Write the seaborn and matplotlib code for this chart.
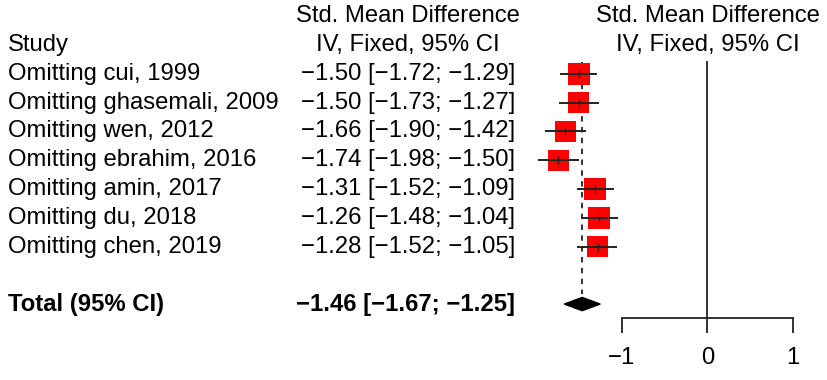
import numpy as np
import matplotlib
matplotlib.use("Agg")
import matplotlib.pyplot as plt
import seaborn as sns
import pandas as pd

# ---- data ----
studies = ["Omitting cui, 1999", "Omitting ghasemali, 2009", "Omitting wen, 2012",
           "Omitting ebrahim, 2016", "Omitting amin, 2017", "Omitting du, 2018",
           "Omitting chen, 2019"]
smd = [-1.50, -1.50, -1.66, -1.74, -1.31, -1.26, -1.28]
ci_low = [-1.72, -1.73, -1.90, -1.98, -1.52, -1.48, -1.52]
ci_high = [-1.29, -1.27, -1.42, -1.50, -1.09, -1.04, -1.05]
weights = [14.2, 14.0, 13.8, 14.1, 14.3, 14.9, 14.4]

total_label = "Total (95% CI)"
total_smd = -1.46
total_low = -1.67
total_high = -1.25

xticks = [-1, 0, 1]

df = pd.DataFrame({"study": studies, "smd": smd, "lo": ci_low, "hi": ci_high,
                   "w": weights})
df["row"] = np.arange(1, len(df) + 1)
total_row = len(df) + 2

def fmt(v):
    return f"{v:.2f}".replace("-", "\u2212")

sns.set_theme(style="white")
plt.rcParams["font.family"] = ["Liberation Sans", "DejaVu Sans"]
plt.rcParams["text.color"] = "black"
plt.rcParams["xtick.color"] = "black"
FS = 17.2
LINE = "#222222"

fig = plt.figure(figsize=(8.27, 3.8), dpi=100)
ax = fig.add_axes([0, 0, 1, 1])
ax.set_xlim(-8.25, -8.25 + 827 / 85.75)
ax.set_ylim(11.64, -1.57)

# squares (area ~ weight)
side = 15.8 * np.sqrt(df["w"] / df["w"].max())
sns.scatterplot(data=df, x="smd", y="row", marker="s", s=side ** 2, color="#ff0000",
                edgecolor="none", legend=False, ax=ax, zorder=3)
ax.hlines(df["row"], df["lo"], df["hi"], color=LINE, lw=1.4, zorder=4)
ax.scatter(df["smd"], df["row"], marker="|", s=30, color=LINE, lw=1.0, zorder=5)

# pooled diamond and reference lines
ax.fill([total_low, total_smd, total_high, total_smd],
        [total_row, total_row - 0.23, total_row, total_row + 0.23],
        color="black", zorder=3)
ax.vlines(total_smd, 0.6, total_row - 0.35, color=LINE, lw=1.3, ls=(0, (3, 3)), zorder=2)
ax.vlines(0, 0.55, 9.49, color=LINE, lw=1.3, zorder=2)

# bottom axis
ax.spines["bottom"].set_position(("data", 9.49))
ax.spines["bottom"].set_bounds(-1, 1)
ax.spines["bottom"].set_color(LINE)
ax.spines["bottom"].set_linewidth(1.3)
for s in ["top", "left", "right"]:
    ax.spines[s].set_visible(False)
ax.set_xticks(xticks)
ax.set_xticklabels([str(t).replace("-", "\u2212") for t in xticks], fontsize=FS)
ax.tick_params(axis="x", direction="out", length=11, width=1.3, color=LINE, pad=10,
               bottom=True, labelcolor="black")
ax.set_yticks([])
ax.set_xlabel("")
ax.set_ylabel("")

# text columns
tr = ax.get_yaxis_transform()
x_study = 8 / 827
x_ci = 515 / 827
x_head = 408 / 827
ax.text(x_study, 0, "Study", transform=tr, fontsize=FS, va="center", ha="left")
ax.text(x_head, -1, "Std. Mean Difference", transform=tr, fontsize=FS, va="center", ha="center")
ax.text(x_head, 0, "IV, Fixed, 95% CI", transform=tr, fontsize=FS, va="center", ha="center")
ax.text(0, -1, "Std. Mean Difference", fontsize=FS, va="center", ha="center")
ax.text(0, 0, "IV, Fixed, 95% CI", fontsize=FS, va="center", ha="center")

for _, r in df.iterrows():
    ax.text(x_study, r["row"], r["study"], transform=tr, fontsize=FS, va="center", ha="left")
    ax.text(x_ci, r["row"], f"{fmt(r['smd'])} [{fmt(r['lo'])}; {fmt(r['hi'])}]",
            transform=tr, fontsize=FS, va="center", ha="right")

ax.text(x_study, total_row, total_label, transform=tr, fontsize=FS, va="center",
        ha="left", fontweight="bold")
ax.text(x_ci, total_row, f"{fmt(total_smd)} [{fmt(total_low)}; {fmt(total_high)}]",
        transform=tr, fontsize=FS, va="center", ha="right", fontweight="bold")

fig.savefig("out.png", dpi=100, facecolor="white")
